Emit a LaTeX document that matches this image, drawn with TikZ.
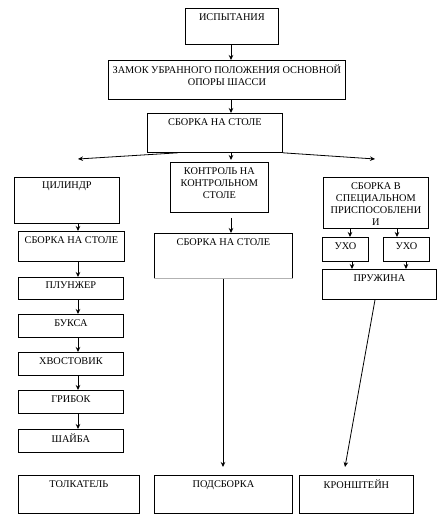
\documentclass[tikz,border=0pt]{standalone}
\usepackage{fontspec}
\setmainfont{Liberation Serif}
\usetikzlibrary{arrows.meta,calc}
\tikzset{
  bx/.style={draw, rectangle, anchor=north west, inner sep=0pt, line width=0.8pt},
  lab/.style={anchor=north, inner sep=0pt, yshift=-5pt, align=center, font=\fontsize{10.3}{12}\selectfont},
  arr/.style={line width=0.8pt, -{Stealth[length=5pt,width=4.5pt]}},
  ln/.style={line width=0.8pt}
}
\begin{document}
\begin{tikzpicture}[x=1pt,y=-1pt]
\useasboundingbox (0,0) rectangle (443,516);
% top chain
\node[bx, minimum width=93pt, minimum height=36pt, label={[lab]north:ИСПЫТАНИЯ}] (isp) at (185,8) {};
\node[bx, minimum width=237pt, minimum height=39pt, label={[lab]north:ЗАМОК УБРАННОГО ПОЛОЖЕНИЯ ОСНОВНОЙ\\ОПОРЫ ШАССИ}] (zam) at (108,60) {};
\node[bx, minimum width=135pt, minimum height=39pt, label={[lab]north:СБОРКА НА СТОЛЕ}] (sb1) at (147,113) {};
% second level
\node[bx, minimum width=105pt, minimum height=46pt, label={[lab]north:ЦИЛИНДР}] (cyl) at (14,177) {};
\node[bx, minimum width=98pt, minimum height=50pt, label={[lab]north:КОНТРОЛЬ НА\\КОНТРОЛЬНОМ\\СТОЛЕ}] (kon) at (170,162) {};
\node[bx, minimum width=105pt, minimum height=51pt, label={[lab]north:СБОРКА В\\СПЕЦИАЛЬНОМ\\ПРИСПОСОБЛЕНИ\\И}] (spec) at (323,177) {};
% left column
\node[bx, minimum width=106pt, minimum height=30pt, label={[lab]north:СБОРКА НА СТОЛЕ}] (sb2) at (18,231) {};
\node[bx, minimum width=105pt, minimum height=22pt, label={[lab]north:ПЛУНЖЕР}] (plu) at (18,277) {};
\node[bx, minimum width=105pt, minimum height=23pt, label={[lab]north:БУКСА}] (buk) at (18,314) {};
\node[bx, minimum width=105pt, minimum height=23pt, label={[lab]north:ХВОСТОВИК}] (xvo) at (18,352) {};
\node[bx, minimum width=105pt, minimum height=23pt, label={[lab]north:ГРИБОК}] (gri) at (18,390) {};
\node[bx, minimum width=105pt, minimum height=23pt, label={[lab]north:ШАЙБА}] (sha) at (18,429) {};
% middle column
\node[bx, minimum width=138pt, minimum height=45pt, label={[lab]north:СБОРКА НА СТОЛЕ}] (sb3) at (154,233) {};
% right column
\node[bx, minimum width=46pt, minimum height=24pt, label={[lab]north:УХО}] (uxo1) at (322,237) {};
\node[bx, minimum width=46pt, minimum height=24pt, label={[lab]north:УХО}] (uxo2) at (383,237) {};
\node[bx, minimum width=114pt, minimum height=30pt, label={[lab]north:ПРУЖИНА}] (pru) at (322,269) {};
% bottom row
\node[bx, minimum width=121pt, minimum height=38pt, label={[lab]north:ТОЛКАТЕЛЬ}] (tol) at (18,475) {};
\node[bx, minimum width=138pt, minimum height=38pt, label={[lab]north:ПОДСБОРКА}] (pod) at (154,475) {};
\node[bx, minimum width=114pt, minimum height=38pt, label={[lab]north:КРОНШТЕЙН}] (kro) at (299,475) {};
\draw[gray!60, line width=1.2pt] (sb3.south west) -- (sb3.south east);
% coordinates
\coordinate (lend) at (78,159);
\coordinate (rend) at (375,159);
\coordinate (podend) at (223,467);
\coordinate (kroend) at (345,467);
% connectors
\draw[arr] (isp.south -| 231,0) -- (zam.north -| 231,0);
\draw[arr] (zam.south -| 231,0) -- (sb1.north -| 231,0);
\draw[arr] (sb1.south -| 231,0) -- ($(kon.north -| 231,0)+(0,-2)$);
\draw[arr] ($(sb1.south west)+(31,0)$) -- (lend);
\draw[arr] (sb1.south east) -- (rend);
\draw[arr] (cyl.south -| 78,0) -- (sb2.north -| 78,0);
\draw[arr] (sb2.south -| 78,0) -- (plu.north -| 78,0);
\draw[arr] (plu.south -| 78,0) -- (buk.north -| 78,0);
\draw[arr] (buk.south -| 78,0) -- (xvo.north -| 78,0);
\draw[arr] (xvo.south -| 78,0) -- (gri.north -| 78,0);
\draw[arr] (gri.south -| 78,0) -- (sha.north -| 78,0);
\draw[arr] ($(kon.south -| 231,0)+(0,5)$) -- (sb3.north -| 231,0);
\draw[arr] (spec.south -| 350,0) -- (uxo1.north -| 350,0);
\draw[arr] (spec.south -| 397,0) -- (uxo2.north -| 397,0);
\draw[arr] (uxo1.south -| 352,0) -- (pru.north -| 352,0);
\draw[arr] (uxo2.south -| 406,0) -- (pru.north -| 406,0);
\draw[arr] (sb3.south -| 223,0) -- (podend);
\draw[arr] (pru.south -| 375,0) -- (kroend);
\end{tikzpicture}
\end{document}
